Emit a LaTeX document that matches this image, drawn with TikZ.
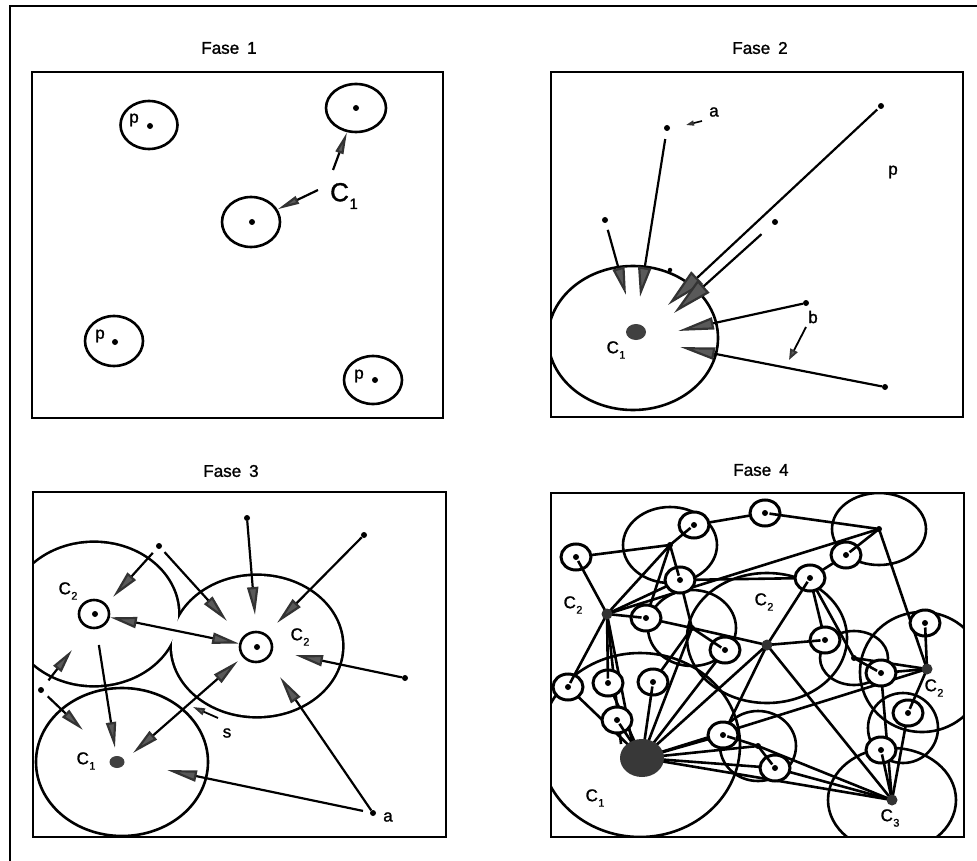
\documentclass[tikz,border=0pt]{standalone}
\usepackage{fontspec}
\setmainfont{Liberation Sans}
\newfontfamily\labfont{Liberation Sans}[FakeBold=1.3]
\usetikzlibrary{arrows.meta,calc,shapes.geometric}

% C with a lowered index
\newcommand{\Csub}[1]{C\kern0.4pt\raisebox{-0.32em}{\fontsize{11}{11}\selectfont #1}}

\tikzset{
  panel/.style={line width=2.8pt},
  ln/.style={line width=2.6pt},
  dot/.style={circle, fill=black, inner sep=0pt, minimum size=6pt},
  smalldot/.style={circle, fill=black, inner sep=0pt, minimum size=4.5pt},
  hub/.style={circle, fill=black!80, inner sep=0pt, minimum size=11pt},
  ring/.style={ellipse, draw, line width=2.6pt, inner sep=0pt, fill=white},
  title/.style={font=\labfont\fontsize{17}{17}\selectfont, inner sep=0pt},
  lab/.style={font=\labfont\fontsize{17}{17}\selectfont, inner sep=0pt},
  arr/.style args={#1/#2}{line width=2.2pt,
    -{Triangle[length=#1, width=#2, fill=black!65, color=black!80]}},
  darr/.style args={#1/#2}{line width=2.2pt,
    {Triangle[length=#1, width=#2, fill=black!65, color=black!80]}-{Triangle[length=#1, width=#2, fill=black!65, color=black!80]}},
}

\begin{document}
\begin{tikzpicture}[x=1pt,y=-1pt]
\useasboundingbox (0,0) rectangle (977,861);

% outer page frame (top and left rules)
\draw[line width=2.4pt] (10,861) -- (10,6) -- (977,6);

% ================= Fase 1 =================
\node[title] (t1) at (229,48) {Fase\hspace{8pt}1};
\draw[panel] (32,72) rectangle (443,418);

\node[ring, minimum width=57pt, minimum height=48pt] (f1a) at (149,125) {};
\node[ring, minimum width=60pt, minimum height=48pt] (f1q) at (356,108) {};
\node[ring, minimum width=58pt, minimum height=50pt] (f1r) at (251,222) {};
\node[ring, minimum width=58pt, minimum height=50pt] (f1b) at (114,341) {};
\node[ring, minimum width=58pt, minimum height=48pt] (f1c) at (373,380) {};

\node[dot] (f1ad) at (150,126) {};
\node[dot] (f1qd) at (356,108) {};
\node[dot] (f1rd) at (252,222) {};
\node[dot] (f1bd) at (115,342) {};
\node[dot] (f1cd) at (375,380) {};

\node[lab] (f1ap) at (134,120) {p};
\node[lab] (f1bp) at (100,336) {p};
\node[lab] (f1cp) at (359,376) {p};

\node[font=\labfont\fontsize{26}{26}\selectfont, inner sep=0pt] (f1lab) at (344,196)
  {C\kern0.5pt\raisebox{-0.3em}{\fontsize{15}{15}\selectfont 1}};
\coordinate (f1u) at (333,170);
\coordinate (f1v) at (318,190);
\draw[arr=22pt/8pt] (f1u) -- (f1q);
\draw[arr=22pt/8pt] (f1v) -- (f1r);

% ================= Fase 2 =================
\node[title] (t2) at (760,48) {Fase\hspace{8pt}2};
\begin{scope}
  \clip (551,72) rectangle (963,417);
  \draw[ln] (633,338) ellipse [x radius=85pt, y radius=72pt];
\end{scope}
\draw[panel] (551,72) rectangle (963,417);

\node[ellipse, fill=black!75, minimum width=20pt, minimum height=16pt, inner sep=0pt] (f2c) at (636,332) {};
\node[lab] (f2clab) at (616,350) {\Csub{1}};

\node[dot] (f2a) at (667,128) {};
\node[dot] (f2tr) at (881,106) {};
\node[dot] (f2m) at (775,222) {};
\node[dot] (f2l) at (605,220) {};
\node[dot] (f2b) at (806,303) {};
\node[dot] (f2lr) at (885,387) {};
\node[smalldot] (f2in) at (670,270) {};

\node[lab] (f2alab) at (714,112) {a};
\node[lab] (f2plab) at (893,172) {p};
\node[lab] (f2blab) at (813,317) {b};

\coordinate (f2t1) at (626,295);
\coordinate (f2t2) at (640,297);
\coordinate (f2t3) at (668,305);
\coordinate (f2t4) at (674,313);
\coordinate (f2t5) at (678,331);
\coordinate (f2t6) at (680,347);
\draw[arr=28pt/12pt, shorten <=7pt] (f2l) -- (f2t1);
\draw[arr=30pt/13pt, shorten <=8pt] (f2a) -- (f2t2);
\draw[arr=40pt/17pt, shorten <=2pt] (f2tr) -- (f2t3);
\draw[arr=40pt/17pt, shorten <=15pt] (f2m) -- (f2t4);
\draw[arr=36pt/12pt] (f2b) -- (f2t5);
\draw[arr=35pt/12pt] (f2lr) -- (f2t6);

\coordinate (f2as) at (702,121);
\coordinate (f2ae) at (686,125);
\draw[arr=8pt/5pt, line width=1.6pt] (f2as) -- (f2ae);
\coordinate (f2bs) at (806,327);
\coordinate (f2be) at (789,360);
\draw[arr=11pt/8pt, line width=1.8pt] (f2bs) -- (f2be);

% ================= Fase 3 =================
\node[title] (t3) at (231,471) {Fase\hspace{8pt}3};
\begin{scope}
  \clip (33,492) rectangle (446,837);
  % merged outline of the two C2 areas
  \draw[line width=5.2pt] (94,614) ellipse [x radius=84pt, y radius=71pt];
  \draw[line width=5.2pt] (257,646) ellipse [x radius=85pt, y radius=70pt];
  \fill[white] (94,614) ellipse [x radius=84pt, y radius=71pt];
  \fill[white] (257,646) ellipse [x radius=85pt, y radius=70pt];
  \draw[ln] (122,762) ellipse [x radius=86pt, y radius=74pt];
\end{scope}
\draw[panel] (33,492) rectangle (446,837);

\node[ring, minimum width=30pt, minimum height=28pt] (f3s1) at (94,614) {};
\node[ring, minimum width=32pt, minimum height=30pt] (f3s2) at (256,647) {};
\node[dot] (f3s1d) at (95,614) {};
\node[dot] (f3s2d) at (257,647) {};
\node[ellipse, fill=black!75, minimum width=15pt, minimum height=12pt, inner sep=0pt] (f3c1) at (117,762) {};

\node[lab] (f3l1) at (68,591) {\Csub{2}};
\node[lab] (f3l2) at (300,637) {\Csub{2}};
\node[lab] (f3l3) at (86,761) {\Csub{1}};
\node[lab] (f3l4) at (227,733) {s};
\node[lab] (f3l5) at (388,817) {a};

\node[dot] (f3d1) at (247,518) {};
\node[dot] (f3d2) at (364,535) {};
\node[dot] (f3d3) at (159,546) {};
\node[dot] (f3d4) at (405,678) {};
\node[dot] (f3d5) at (373,813) {};
\node[dot] (f3d6) at (41,690) {};

\coordinate (f3t1) at (255,615);
\coordinate (f3t2) at (277,623);
\coordinate (f3t3) at (113,597);
\coordinate (f3t4) at (227,621);
\coordinate (f3t7) at (295,655);
\coordinate (f3t8) at (280,677);
\coordinate (f3t9) at (167,770);
\coordinate (f3t10) at (238,661);
\coordinate (f3t11) at (133,753);
\coordinate (f3t12) at (115,748);
\coordinate (f3t13) at (72,650);
\coordinate (f3t14) at (83,730);

\draw[arr=28pt/11pt] (f3d1) -- (f3t1);
\draw[arr=28pt/11pt] (f3d2) -- (f3t2);
\draw[arr=28pt/11pt, shorten <=6pt] (f3d3) -- (f3t3);
\draw[arr=28pt/11pt, shorten <=5pt] (f3d3) -- (f3t4);
\draw[darr=27pt/11pt] (f3s1) -- (f3s2);
\draw[arr=28pt/11pt] (f3d4) -- (f3t7);
\draw[arr=28pt/11pt] (f3d5) -- (f3t8);
\draw[arr=30pt/11pt, shorten <=7pt] (f3d5) -- (f3t9);
\draw[darr=27pt/11pt] (f3t10) -- (f3t11);
\draw[arr=26pt/10pt, shorten <=16pt] (f3s1) -- (f3t12);
\draw[arr=24pt/10pt, shorten <=9pt] (f3d6) -- (f3t13);
\draw[arr=24pt/10pt, shorten <=6pt] (f3d6) -- (f3t14);
\coordinate (f3ss) at (218,718);
\coordinate (f3se) at (193,707);
\draw[arr=12pt/7pt, line width=1.8pt] (f3ss) -- (f3se);

% ================= Fase 4 =================
\node[title] (t4) at (761,470) {Fase\hspace{8pt}4};

% centres of the places
\coordinate (c1) at (642,758);
\coordinate (c2a) at (607,614);
\coordinate (c2b) at (767,645);
\coordinate (c2c) at (927,669);
\coordinate (c3) at (892,800);
\coordinate (ca) at (670,545);
\coordinate (cb) at (692,628);
\coordinate (cd) at (879,529);
\coordinate (ce) at (758,746);
\coordinate (cf) at (854,658);
\coordinate (k1) at (640,745);
\coordinate (k2) at (767,638);
\coordinate (k3) at (922,672);
\coordinate (k4) at (903,728);

\coordinate (s1) at (576,557);
\coordinate (s2) at (694,525);
\coordinate (s3) at (765,513);
\coordinate (s4) at (680,580);
\coordinate (s5) at (646,618);
\coordinate (s6) at (725,650);
\coordinate (s7) at (568,687);
\coordinate (s8) at (608,683);
\coordinate (s9) at (653,682);
\coordinate (s10) at (617,720);
\coordinate (s11) at (723,735);
\coordinate (s12) at (775,768);
\coordinate (s13) at (846,555);
\coordinate (s14) at (810,578);
\coordinate (s15) at (825,640);
\coordinate (s16) at (881,673);
\coordinate (s17) at (925,623);
\coordinate (s18) at (908,713);
\coordinate (s19) at (881,750);

\begin{scope}
  \clip (551,493) rectangle (964,837);
  % market areas
  \foreach \c/\rx/\ry in {ca/47pt/38pt, cb/44pt/38pt, cd/47pt/36pt, ce/38pt/35pt,
      cf/34pt/27pt, k1/100pt/92pt, k2/80pt/65pt, k3/62pt/60pt, c3/64pt/52pt, k4/35pt/35pt}
    \draw[ln] (\c) ellipse [x radius=\rx, y radius=\ry];
  % links between places
  \foreach \a/\b in {s1/c2a, s1/ca, s2/ca, s2/s3, s3/cd, s4/ca, s4/cb, s4/c2a, s4/s14,
      s5/c2a, s5/cb, s5/ca, s6/cb, s6/c1, s7/c2a, s7/c1, s8/c2a, s8/c1, s9/c1, s9/cb,
      s10/c1, s11/ce, s11/c1, s11/c2b, s12/ce, s12/c3, s12/c1, s13/cd, s13/s14,
      s14/c2b, s14/s15, s14/cf, s15/c2b, s16/cf, s16/c2c, s16/c3, s17/c2c,
      s18/c2c, s18/c3, s19/c3, c2a/ca, c2a/cd, cb/c2b, cb/c1, c2b/c1, c2b/c3,
      c1/c3, c1/c2c, c1/ce, ce/c3, cf/c2c, cd/c2c}
    \draw[ln] (\a) -- (\b);
  \coordinate (w1) at (632,742);
  \coordinate (w2) at (621,744);
  \draw[ln] (c2a) -- (w1);
  \draw[ln] (c2a) -- (w2);
\end{scope}
\draw[panel] (551,493) rectangle (964,837);

% small places
\foreach \s in {s1,s2,s3,s4,s5,s6,s7,s8,s9,s10,s11,s12,s13,s14,s15,s16,s17,s18,s19}
  \node[ring, minimum width=30pt, minimum height=26pt, line width=3pt] (\s r) at (\s) {};
\foreach \s/\p in {s1/c2a, s2/ca, s3/cd, s4/ca, s5/c2a, s6/cb, s7/c2a, s8/c2a, s9/c1,
    s10/c1, s11/ce, s12/ce, s13/cd, s14/c2b, s15/c2b, s16/cf, s17/c2c, s18/c2c, s19/c3}
  \draw[ln] ($(\s)!4.5pt!(\p)$) -- ($(\s)!13pt!(\p)$);
\foreach \s in {s1,s2,s3,s4,s5,s6,s7,s8,s9,s10,s11,s12,s13,s14,s15,s16,s17,s18,s19}
  \node[dot] (\s d) at (\s) {};

% centres of the market areas
\foreach \c in {ca,cb,cd,ce,cf}
  \node[smalldot, minimum size=6pt] (\c n) at (\c) {};

% higher order places
\node[ellipse, fill=black!78, minimum width=44pt, minimum height=38pt, inner sep=0pt] (c1n) at (c1) {};
\node[hub] (c2an) at (c2a) {};
\node[hub] (c2bn) at (c2b) {};
\node[hub] (c2cn) at (c2c) {};
\node[hub] (c3n) at (c3) {};

\node[lab] (f4l1) at (573,605) {\Csub{2}};
\node[lab] (f4l2) at (764,602) {\Csub{2}};
\node[lab] (f4l3) at (934,688) {\Csub{2}};
\node[lab] (f4l4) at (595,798) {\Csub{1}};
\node[lab] (f4l5) at (890,818) {\Csub{3}};

\end{tikzpicture}
\end{document}
